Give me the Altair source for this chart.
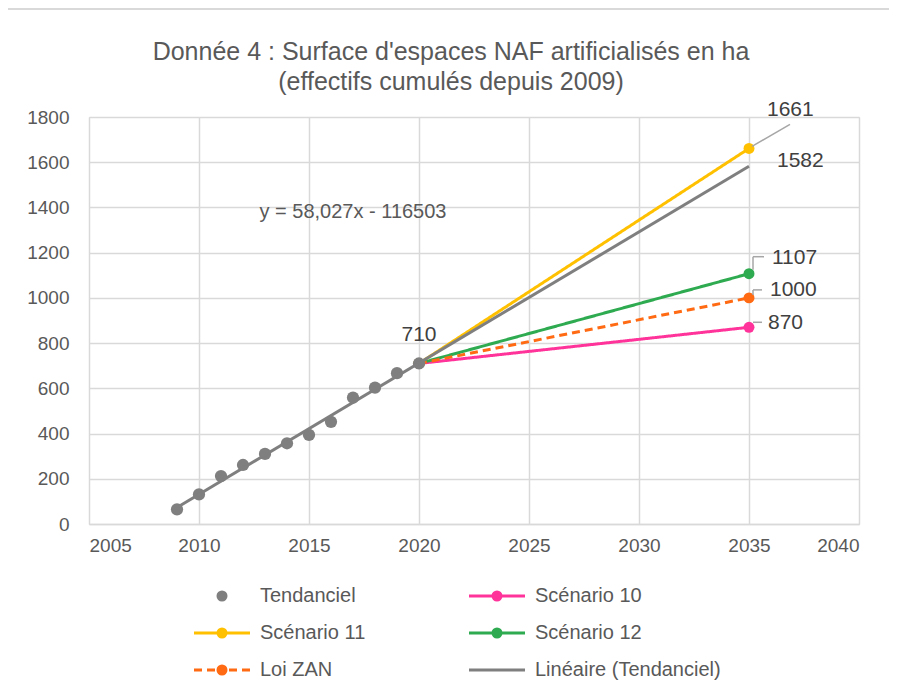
import altair as alt
import pandas as pd

# ---------------- data ----------------
tend_years = [2009, 2010, 2011, 2012, 2013, 2014, 2015, 2016, 2017, 2018, 2019, 2020]
tend_values = [65, 131, 212, 261, 310, 357, 394, 452, 559, 603, 667, 710]

scen_names = ["Scénario 10", "Scénario 11", "Scénario 12", "Loi ZAN"]
scen_years = [2020, 2035]
scen_start = [710, 710, 710, 710]
scen_end = [870, 1661, 1107, 1000]

trend_name = "Linéaire (Tendanciel)"
trend_years = [2009, 2035]
trend_values = [73, 1582]
equation = "y = 58,027x - 116503"

legend_order = ["Tendanciel", "Scénario 10", "Scénario 11", "Scénario 12", "Loi ZAN", "Linéaire (Tendanciel)"]
palette = ["#7F7F7F", "#FF3399", "#FFC000", "#2EAA50", "#FF6A13", "#7F7F7F"]

title_lines = ["Donnée 4 : Surface d'espaces NAF artificialisés en ha", "(effectifs cumulés depuis 2009)"]
x_ticks = [2005, 2010, 2015, 2020, 2025, 2030, 2035, 2040]
y_ticks = [0, 200, 400, 600, 800, 1000, 1200, 1400, 1600, 1800]

# ---------------- tables ----------------
tend_df = pd.DataFrame({"annee": tend_years, "valeur": tend_values, "serie": "Tendanciel"})
rows = []
for n, a, b in zip(scen_names, scen_start, scen_end):
    rows.append({"annee": scen_years[0], "valeur": a, "serie": n})
    rows.append({"annee": scen_years[1], "valeur": b, "serie": n})
scen_df = pd.DataFrame(rows)
scen_end_df = scen_df[scen_df["annee"] == scen_years[1]].reset_index(drop=True)
trend_df = pd.DataFrame({"annee": trend_years, "valeur": trend_values, "serie": trend_name})
legend_df = pd.DataFrame({"serie": legend_order})

FONT = "Liberation Sans"
GRID = "#D9D9D9"
TXT = "#595959"
LBL = "#404040"

xs = alt.Scale(domain=[2005, 2040], nice=False, zero=False)
ys = alt.Scale(domain=[0, 1800], nice=False)
color_scale = alt.Scale(domain=legend_order, range=palette)
dash_scale = alt.Scale(domain=legend_order, range=[[1, 0], [1, 0], [1, 0], [1, 0], [8, 5], [1, 0]])

circ = "M-0.8,0A0.8,0.8,0,1,1,0.8,0A0.8,0.8,0,1,1,-0.8,0Z"
line = "M-5.6,0L5.6,0"
dashed = "M-5.6,0L-4.0,0M-3.0,0L-1.4,0M1.4,0L3.0,0M4.0,0L5.6,0"
shape_scale = alt.Scale(domain=legend_order,
                        range=[circ, line + circ, line + circ, line + circ, dashed + circ, line])

x_axis = alt.Axis(values=x_ticks, format="d", title=None, grid=True, gridColor=GRID, gridWidth=1.5,
                  domainColor=GRID, domainWidth=1.5, ticks=False, tickSize=0, labelFontSize=19,
                  labelColor=TXT, labelFont=FONT, labelPadding=12)
y_axis = alt.Axis(values=y_ticks, format="d", title=None, grid=True, gridColor=GRID, gridWidth=1.5,
                  domain=False, ticks=False, tickSize=0, labelFontSize=19,
                  labelColor=TXT, labelFont=FONT, labelPadding=20)

X = alt.X("annee:Q", scale=xs, axis=x_axis)
Y = alt.Y("valeur:Q", scale=ys, axis=y_axis)
C = alt.Color("serie:N", scale=color_scale, legend=None)

scen_lines = alt.Chart(scen_df).mark_line(strokeWidth=3).encode(
    x=X, y=Y, color=C,
    strokeDash=alt.StrokeDash("serie:N", scale=dash_scale, legend=None),
    detail="serie:N")
scen_pts = alt.Chart(scen_df).mark_circle(size=120, opacity=1).encode(x=X, y=Y, color=C)
tend_pts = alt.Chart(tend_df).mark_circle(size=150, opacity=1).encode(x=X, y=Y, color=C)
trend_line = alt.Chart(trend_df).mark_line(strokeWidth=3).encode(x=X, y=Y, color=C)

# data labels
label_style = dict(fontSize=21, font=FONT, color=LBL)
lab710 = alt.Chart(tend_df.tail(1)).mark_text(align="center", baseline="middle", dy=-28, **label_style).encode(
    x=X, y=Y, text=alt.Text("valeur:Q"))
trend_end = trend_df.tail(1)
lab_trend = alt.Chart(trend_end).mark_text(align="left", baseline="middle", dx=28, dy=-5, **label_style).encode(
    x=X, y=Y, text=alt.Text("valeur:Q"))

offsets = {"Scénario 11": (18, -38), "Scénario 12": (23, -16), "Loi ZAN": (21, -8), "Scénario 10": (19, -4)}
end_labels = []
for name, (dx, dy) in offsets.items():
    sub = scen_end_df[scen_end_df["serie"] == name]
    end_labels.append(alt.Chart(sub).mark_text(align="left", baseline="middle", dx=dx, dy=dy, **label_style).encode(
        x=X, y=Y, text=alt.Text("valeur:Q")))

# leader lines (offsets from the data point)
leaders_spec = {
    "Scénario 11": [(3, -2, 41, -24)],
    "Scénario 12": [(4, -4, 4, -17), (4, -17, 15, -17)],
    "Loi ZAN": [(4, -3, 4, -8), (4, -8, 13, -8)],
    "Scénario 10": [(4, -5, 13, -5)],
}
leaders = []
for name, segs in leaders_spec.items():
    sub = scen_end_df[scen_end_df["serie"] == name]
    for (ax, ay, bx, by) in segs:
        leaders.append(alt.Chart(sub).mark_rule(color="#A6A6A6", strokeWidth=1.5,
                                                xOffset=ax, yOffset=ay, x2Offset=bx, y2Offset=by).encode(
            x=X, y=Y, x2=alt.X2("annee:Q"), y2=alt.Y2("valeur:Q")))

eq_text = alt.Chart().mark_text(align="center", baseline="middle", fontSize=20, font=FONT, color=TXT).encode(
    x=alt.value(264), y=alt.value(95), text=alt.value(equation))

# title (two centred lines over the chart area)
title_marks = []
for i, t in enumerate(title_lines):
    title_marks.append(alt.Chart().mark_text(align="center", baseline="middle", fontSize=25, font=FONT,
                                             color=TXT).encode(
        x=alt.value(362), y=alt.value(-65 + 30 * i), text=alt.value(t)))

# legend (entries come from the scale domain)
leg = alt.Legend(orient="none", legendX=123, legendY=469, columns=2, direction="horizontal",
                 columnPadding=97, rowPadding=17, labelLimit=400,
                 symbolSize=100, symbolStrokeWidth=3, labelFontSize=20, labelColor=TXT, labelFont=FONT,
                 labelOffset=28, title=None, padding=0, symbolOpacity=1)
legend_layer = alt.Chart(legend_df).mark_point(filled=True, strokeWidth=3, opacity=1).encode(
    color=alt.Color("serie:N", scale=color_scale, legend=leg),
    stroke=alt.Stroke("serie:N", scale=color_scale, legend=leg),
    shape=alt.Shape("serie:N", scale=shape_scale, legend=leg),
).transform_filter("datum.serie == 'aucune'")

# chart frame (top and left borders)
frame_top = alt.Chart().mark_rule(color=GRID, strokeWidth=2).encode(
    x=alt.value(-82), x2=alt.value(812), y=alt.value(-108), y2=alt.value(-108))
frame_left = alt.Chart().mark_rule(color=GRID, strokeWidth=2).encode(
    x=alt.value(-82), x2=alt.value(-82), y=alt.value(-109), y2=alt.value(580))

data_layers = alt.layer(scen_lines, scen_pts, tend_pts, trend_line)

chart = alt.layer(
    frame_top, frame_left, *title_marks,
    data_layers,
    *leaders, lab710, lab_trend, *end_labels, eq_text, legend_layer,
).resolve_scale(
    color="independent", stroke="independent", shape="independent"
).resolve_legend(
    color="independent", stroke="independent", shape="independent"
).properties(
    width=770, height=407,
    autosize=alt.AutoSizeParams(type="none"),
    padding={"left": 81, "top": 109, "right": 30, "bottom": 160},
).configure_view(stroke=None).configure(font=FONT)

chart.save("out.html", embed_options={"renderer": "svg", "actions": False})
